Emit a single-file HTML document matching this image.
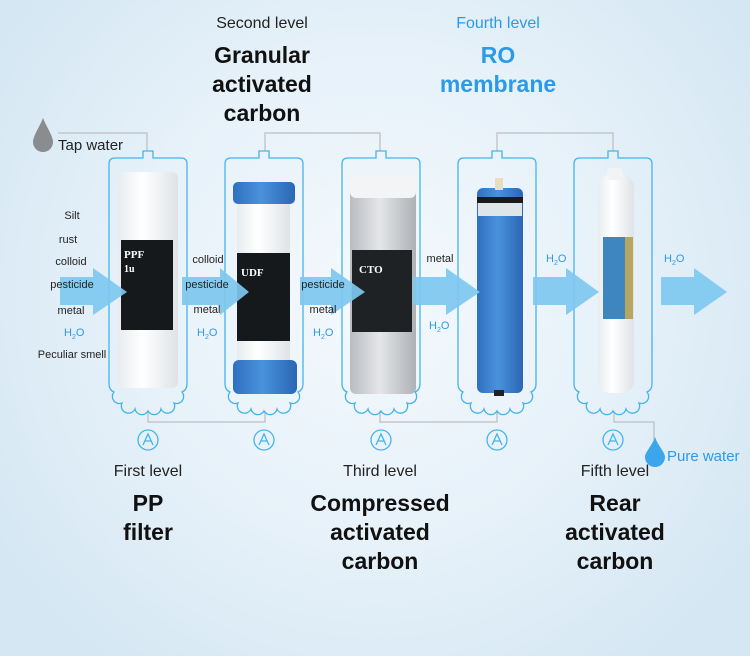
<!DOCTYPE html>
<html><head><meta charset="utf-8"><style>
html,body{margin:0;padding:0;}
body{width:750px;height:656px;overflow:hidden;background:radial-gradient(ellipse 60% 70% at 50% 45%,#f4f9fd 0%,#e6f1f9 55%,#d5e7f3 100%);}
svg{display:block;font-family:"Liberation Sans",Arial,sans-serif;}
</style></head><body>
<svg width="750" height="656" viewBox="0 0 750 656">
<defs>
<g id="hous">
<path d="M-5,158 L-5,151 L5,151 L5,158 L33,158 Q39,158 39,164 L39,384 Q39,390 34,392 A7,7 0 0 1 26,403 A7,7 0 0 1 13,409 A7,7 0 0 1 0,411 A7,7 0 0 1 -13,409 A7,7 0 0 1 -26,403 A7,7 0 0 1 -34,392 Q-39,390 -39,384 L-39,164 Q-39,158 -33,158 Z" fill="none" stroke="#45b4ea" stroke-width="1.3"/>
<circle cx="0" cy="440" r="10" fill="none" stroke="#45b4ea" stroke-width="1.3"/>
<path d="M-5,445 L0,434 L5,445 M-3,441 L3,441" fill="none" stroke="#45b4ea" stroke-width="1.3"/>
</g>
<linearGradient id="wh" x1="0" x2="1"><stop offset="0" stop-color="#e8ecef"/><stop offset=".4" stop-color="#fff"/><stop offset="1" stop-color="#dfe3e6"/></linearGradient>
<linearGradient id="bl" x1="0" x2="1"><stop offset="0" stop-color="#2f6fc0"/><stop offset=".45" stop-color="#4a92dc"/><stop offset="1" stop-color="#2a66b4"/></linearGradient>
<linearGradient id="gr" x1="0" x2="1"><stop offset="0" stop-color="#b9bcc0"/><stop offset=".45" stop-color="#e4e6e8"/><stop offset="1" stop-color="#aeb1b5"/></linearGradient>
</defs>

<g fill="none" stroke="#c3c7cb" stroke-width="1.5">
<path d="M58,133 L147,133 L147,151"/>
<path d="M265,151 L265,133 L380,133 L380,151"/>
<path d="M497,151 L497,133 L613,133 L613,151"/>
<path d="M148,411 L148,422 L265,422 L265,411"/>
<path d="M380,411 L380,422 L497,422 L497,411"/>
<path d="M614,411 L614,422 L654,422 L654,440"/>
</g>

<rect x="118" y="172" width="60" height="216" rx="6" fill="url(#wh)"/>
<rect x="121" y="240" width="52" height="90" fill="#15191c"/>
<text x="124" y="258" font-family="Liberation Serif" font-weight="bold" font-size="11" fill="#fff">PPF</text>
<text x="124" y="272" font-family="Liberation Serif" font-weight="bold" font-size="10" fill="#fff">1u</text>

<rect x="237" y="200" width="53" height="165" fill="url(#wh)"/>
<rect x="233" y="182" width="62" height="22" rx="5" fill="url(#bl)"/>
<rect x="233" y="360" width="64" height="34" rx="6" fill="url(#bl)"/>
<rect x="237" y="253" width="53" height="88" fill="#15191c"/>
<text x="241" y="276" font-family="Liberation Serif" font-weight="bold" font-size="11" fill="#fff">UDF</text>

<rect x="350" y="178" width="66" height="216" rx="6" fill="url(#gr)"/>
<rect x="350" y="176" width="66" height="22" rx="6" fill="#f3f4f5"/>
<rect x="352" y="250" width="60" height="82" fill="#1e2225"/>
<text x="359" y="273" font-family="Liberation Serif" font-weight="bold" font-size="11" fill="#fff">CTO</text>

<rect x="477" y="188" width="46" height="205" rx="6" fill="url(#bl)"/>
<rect x="477" y="197" width="46" height="6" fill="#1b1b1b"/>
<rect x="478" y="203" width="44" height="13" fill="#dfe6ea"/>
<rect x="495" y="178" width="8" height="12" fill="#eadcc0"/>
<rect x="494" y="390" width="10" height="6" fill="#222"/>

<rect x="598" y="175" width="36" height="218" rx="12" fill="url(#wh)"/>
<rect x="607" y="168" width="16" height="12" rx="4" fill="#f2f3f4"/>
<rect x="603" y="237" width="30" height="82" fill="#3d86c0"/>
<rect x="625" y="237" width="8" height="82" fill="#b8a560"/>

<use href="#hous" x="148"/>
<use href="#hous" x="264"/>
<use href="#hous" x="381"/>
<use href="#hous" x="497"/>
<use href="#hous" x="613"/>

<g fill="#7ec8ef" opacity=".92">
<path d="M60,277 L93,277 L93,268 L127,292 L93,315 L93,305 L60,305 Z"/>
<path d="M182,277 L220,277 L220,268 L249,292 L220,315 L220,305 L182,305 Z"/>
<path d="M300,277 L331,277 L331,268 L365,292 L331,315 L331,305 L300,305 Z"/>
<path d="M413,277 L446,277 L446,268 L480,292 L446,315 L446,305 L413,305 Z"/>
<path d="M533,277 L566,277 L566,268 L599,292 L566,315 L566,305 L533,305 Z"/>
<path d="M661,277 L694,277 L694,268 L727,292 L694,315 L694,305 L661,305 Z"/>
</g>

<path d="M43,118 C47,128 53,136 53,142 A10,10 0 0 1 33,142 C33,136 39,128 43,118 Z" fill="#8a8d90"/>
<path d="M655,437 C658,446 665,452 665,457 A10,10 0 0 1 645,457 C645,452 652,446 655,437 Z" fill="#3ba6ec"/>

<text x="58" y="150" font-size="15" fill="#222">Tap water</text>
<text x="667" y="461" font-size="15" fill="#2c9ae8">Pure water</text>

<g font-size="11" fill="#222" text-anchor="middle">
<text x="72" y="219">Silt</text>
<text x="68" y="243">rust</text>
<text x="71" y="265">colloid</text>
<text x="72" y="288">pesticide</text>
<text x="71" y="314">metal</text>
<text x="72" y="358">Peculiar smell</text>
<text x="208" y="263">colloid</text>
<text x="207" y="288">pesticide</text>
<text x="207" y="313">metal</text>
<text x="323" y="288">pesticide</text>
<text x="323" y="313">metal</text>
<text x="440" y="262">metal</text>
</g>
<g font-size="11" fill="#2c9ae8">
<text x="64" y="336">H<tspan font-size="7" dy="3">2</tspan><tspan dy="-3">O</tspan></text>
<text x="197" y="336">H<tspan font-size="7" dy="3">2</tspan><tspan dy="-3">O</tspan></text>
<text x="313" y="336">H<tspan font-size="7" dy="3">2</tspan><tspan dy="-3">O</tspan></text>
<text x="429" y="329">H<tspan font-size="7" dy="3">2</tspan><tspan dy="-3">O</tspan></text>
<text x="546" y="262">H<tspan font-size="7" dy="3">2</tspan><tspan dy="-3">O</tspan></text>
<text x="664" y="262">H<tspan font-size="7" dy="3">2</tspan><tspan dy="-3">O</tspan></text>
</g>

<g text-anchor="middle">
<text x="262" y="28" font-size="16" fill="#222">Second level</text>
<g font-size="23" font-weight="bold" fill="#111">
<text x="262" y="63">Granular</text><text x="262" y="92">activated</text><text x="262" y="121">carbon</text>
</g>
<text x="498" y="28" font-size="16" fill="#2c9ae8">Fourth level</text>
<g font-size="23" font-weight="bold" fill="#2c9ae8">
<text x="498" y="63">RO</text><text x="498" y="92">membrane</text>
</g>
<text x="148" y="476" font-size="16" fill="#222">First level</text>
<text x="380" y="476" font-size="16" fill="#222">Third level</text>
<text x="615" y="476" font-size="16" fill="#222">Fifth level</text>
<g font-size="23" font-weight="bold" fill="#111">
<text x="148" y="511">PP</text><text x="148" y="540">filter</text>
<text x="380" y="511">Compressed</text><text x="380" y="540">activated</text><text x="380" y="569">carbon</text>
<text x="615" y="511">Rear</text><text x="615" y="540">activated</text><text x="615" y="569">carbon</text>
</g>
</g>
</svg>
</body></html>
